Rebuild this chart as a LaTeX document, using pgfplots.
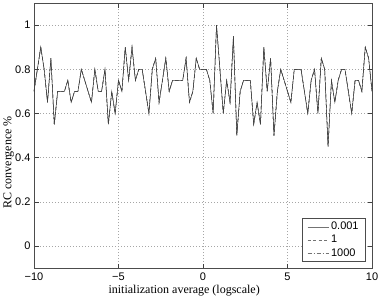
\documentclass[border=0pt]{standalone}
\usepackage{pgfplots}
\pgfplotsset{compat=1.18}
\usepackage{pgfplotstable}
\usepackage{fontspec}
\setmainfont{Liberation Sans}
\newfontfamily\timesf{Liberation Serif}

\pgfplotstableread{
x y
-10.0 0.70
-9.8 0.80
-9.6 0.90
-9.4 0.80
-9.2 0.65
-9.0 0.85
-8.8 0.55
-8.6 0.70
-8.4 0.70
-8.2 0.70
-8.0 0.75
-7.8 0.65
-7.6 0.70
-7.4 0.70
-7.2 0.80
-7.0 0.75
-6.8 0.70
-6.6 0.65
-6.4 0.80
-6.2 0.70
-6.0 0.70
-5.8 0.80
-5.6 0.55
-5.4 0.70
-5.2 0.60
-5.0 0.75
-4.8 0.70
-4.6 0.90
-4.4 0.75
-4.2 0.90
-4.0 0.75
-3.8 0.80
-3.6 0.80
-3.4 0.70
-3.2 0.60
-3.0 0.80
-2.8 0.85
-2.6 0.65
-2.4 0.75
-2.2 0.85
-2.0 0.70
-1.8 0.75
-1.6 0.75
-1.4 0.75
-1.2 0.75
-1.0 0.85
-0.8 0.65
-0.6 0.70
-0.4 0.85
-0.2 0.80
0.0 0.80
0.2 0.80
0.4 0.75
0.6 0.60
0.8 1.00
1.0 0.80
1.2 0.60
1.4 0.75
1.6 0.65
1.8 0.95
2.0 0.50
2.2 0.70
2.4 0.75
2.6 0.75
2.8 0.75
3.0 0.55
3.2 0.65
3.4 0.55
3.6 0.90
3.8 0.70
4.0 0.85
4.2 0.50
4.4 0.70
4.6 0.80
4.8 0.75
5.0 0.70
5.2 0.65
5.4 0.80
5.6 0.80
5.8 0.80
6.0 0.70
6.2 0.60
6.4 0.75
6.6 0.80
6.8 0.60
7.0 0.85
7.2 0.80
7.4 0.45
7.6 0.75
7.8 0.65
8.0 0.75
8.2 0.80
8.4 0.80
8.6 0.70
8.8 0.60
9.0 0.75
9.2 0.75
9.4 0.70
9.6 0.90
9.8 0.85
10.0 0.70
}\rcdata

\begin{document}
\begin{tikzpicture}
\begin{axis}[
  scale only axis,
  width=338pt, height=265pt,
  xmin=-10, xmax=10, ymin=-0.1, ymax=1.1,
  xtick={-10,-5,0,5,10},
  xticklabels={−10,−5,0,5,10},
  ytick={0,0.2,0.4,0.6,0.8,1},
  yticklabels={0,0.2,0.4,0.6,0.8,1},
  tick align=inside,
  major tick length=4.5pt,
  tick style={black!75, line width=0.5pt},
  axis line style={black!70, line width=0.6pt},
  grid=major,
  major grid style={gray!70, line width=0.4pt, dash pattern=on 0.8pt off 2.2pt},
  tick label style={font=\fontsize{11}{13}\selectfont},
  xticklabel style={yshift=-1pt},
  xlabel={initialization average (logscale)},
  ylabel={RC convergence \%},
  every axis x label/.style={at={(axis description cs:0.21,-0.098)}, anchor=base west, font=\timesf\fontsize{12}{14}\selectfont},
  every axis y label/.style={at={(axis description cs:-0.0666,0.211)}, anchor=base west, rotate=90, font=\timesf\fontsize{12}{14}\selectfont},
  legend style={at={(axis description cs:0.982,0.023)}, anchor=south east, draw=black!70, line width=0.6pt, font=\fontsize{11}{13}\selectfont, inner xsep=5pt, inner ysep=2pt, row sep=0pt},
  legend cell align=left,
  legend image code/.code={\draw[#1, draw=black!55, line width=0.5pt] (0cm,0cm) -- (0.75cm,0cm);},
]
\addplot[black!75, line width=0.5pt] table[x=x,y=y]{\rcdata};
\addlegendentry{0.001}
\addplot[black!75, line width=0.5pt, dash pattern=on 3pt off 2.5pt] table[x=x,y=y]{\rcdata};
\addlegendentry{1}
\addplot[black!75, line width=0.5pt, dash pattern=on 4pt off 2pt on 1pt off 2pt] table[x=x,y=y]{\rcdata};
\addlegendentry{1000}
\end{axis}
\pgfresetboundingbox
\path ([shift={(-34pt,-30pt)}]current axis.south west) rectangle ([shift={(10pt,3pt)}]current axis.north east);
\end{tikzpicture}
\end{document}
